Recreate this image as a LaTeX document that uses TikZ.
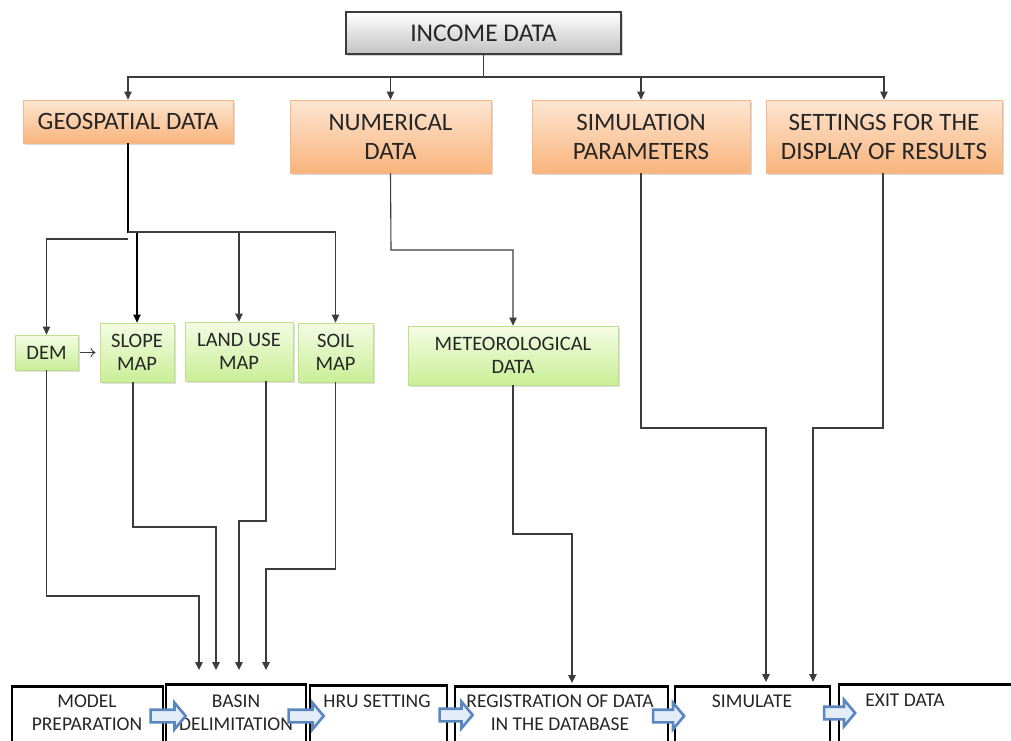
\documentclass[tikz,border=0pt]{standalone}
\usepackage{fontspec}
\setmainfont{Carlito}
\usetikzlibrary{arrows.meta,shapes.arrows,shadows}
\definecolor{txt}{HTML}{262626}
\definecolor{lineg}{HTML}{3C3C3C}
\definecolor{otop}{HTML}{FDE6D2}
\definecolor{obot}{HTML}{F9B47C}
\definecolor{oedge}{HTML}{F4B88A}
\definecolor{gtop}{HTML}{F4FCE4}
\definecolor{gbot}{HTML}{C9EE96}
\definecolor{gedge}{HTML}{BFE08A}
\definecolor{abl}{HTML}{5A87C0}
\definecolor{afill}{HTML}{E4ECF7}
\begin{document}
\begin{tikzpicture}[x=1pt,y=-1pt,
  every node/.style={text=txt},
  graybox/.style={draw=lineg, line width=1.2pt, top color=white, bottom color=black!24,
    drop shadow={shadow xshift=2pt, shadow yshift=-2pt, opacity=0.35},
    font=\fontsize{25.5}{30}\selectfont, inner sep=0pt},
  obox/.style={draw=oedge, line width=0.8pt, top color=otop, bottom color=obot,
    drop shadow={shadow xshift=2pt, shadow yshift=-2pt, opacity=0.3},
    font=\fontsize{25}{29}\selectfont, align=center, inner sep=0pt},
  gbox/.style={draw=gedge, line width=0.8pt, top color=gtop, bottom color=gbot,
    drop shadow={shadow xshift=1.5pt, shadow yshift=-1.5pt, opacity=0.25},
    font=\fontsize{20.5}{23.5}\selectfont, align=center, inner sep=0pt},
  bbox/.style={draw=black, line width=2.6pt, fill=white, anchor=north, minimum height=95},
  btext/.style={font=\fontsize{19.5}{22.5}\selectfont, align=center, anchor=north, inner sep=0pt},
  conn/.style={draw=lineg, line width=1.1pt, -{Triangle[length=8pt,width=7.5pt]}},
  barrow/.style={single arrow, draw=abl, line width=2.6pt, fill=afill, inner xsep=0pt, inner ysep=5pt,
    minimum width=24, single arrow head extend=7pt, single arrow tip angle=100}
]
\useasboundingbox (0,0) rectangle (1011,740);
\clip (0,0) rectangle (1011,740);

% top level
\node[graybox, minimum width=275, minimum height=42] (income) at (483.5,33) {INCOME DATA};
\node[obox, minimum width=210, minimum height=43] (geo) at (128,121.5) {GEOSPATIAL DATA};
\node[obox, minimum width=201, minimum height=73] (num) at (390.5,136.5) {NUMERICAL\\DATA};
\node[obox, minimum width=218, minimum height=73] (simp) at (641,136.5) {SIMULATION\\PARAMETERS};
\node[obox, minimum width=236, minimum height=73] (disp) at (884,136.5) {SETTINGS FOR THE\\DISPLAY OF RESULTS};

% green boxes
\node[gbox, minimum width=63, minimum height=35] (dem) at (46.5,352.5) {DEM};
\node[gbox, minimum width=74, minimum height=59] (slope) at (137,352.5) {SLOPE\\MAP};
\node[gbox, minimum width=108, minimum height=59] (land) at (239,351.5) {LAND USE\\MAP};
\node[gbox, minimum width=75, minimum height=59] (soil) at (335.5,352.5) {SOIL\\MAP};
\node[gbox, minimum width=210, minimum height=59] (met) at (513,355.5) {METEOROLOGICAL\\DATA};

% bottom boxes
\node[bbox, minimum width=151] (mp) at (87.5,685) {};
\node[bbox, minimum width=140] (basin) at (236,683) {};
\node[bbox, minimum width=137] (hru) at (378.5,684) {};
\node[bbox, minimum width=213] (reg) at (561.5,685) {};
\node[bbox, minimum width=155] (sim) at (752.5,685) {};
\node[bbox, minimum width=181] (exit) at (929.5,683) {};
\node[btext] (mpt) at (87,695) {MODEL\\PREPARATION};
\node[btext] (basint) at (236,695) {BASIN\\DELIMITATION};
\node[btext] (hrut) at (377,695) {HRU SETTING};
\node[btext] (regt) at (560,695) {REGISTRATION OF DATA\\IN THE DATABASE};
\node[btext] (simt) at (752,695) {SIMULATE};
\node[btext] (exitt) at (905,694) {EXIT DATA};

% block arrows
\node[barrow, minimum height=35] (a1) at (165.5,716) {};
\node[barrow, minimum height=35] (a2) at (303.5,716) {};
\node[barrow, minimum height=33] (a3) at (453.5,715) {};
\node[barrow, minimum height=31] (a4) at (666,716) {};
\node[barrow, minimum height=31] (a5) at (837,713) {};

% connectors from income
\coordinate (ij) at (483.5,77);
\draw[conn] (income.south) -- (ij) -| (geo.north);
\draw[conn] (ij) -| (num.north);
\draw[conn] (ij) -| (simp.north);
\draw[conn] (ij) -| (disp.north);

% geospatial branches
\coordinate (gj) at (128,232);
\coordinate (gd) at (128,239);
\draw[conn, draw=black] (geo.south) -- (gj) -| (slope.north);
\draw[conn] (gj) -| (land.north);
\draw[conn] (gj) -| (soil.north);
\draw[conn] (gd) -| (dem.north);
\draw[draw=lineg, line width=0.9pt, -{To[length=5pt,width=9pt]}, shorten <=2pt, shorten >=4pt] (dem.east) -- (slope.west |- dem.east);

% numerical to meteorological
\coordinate (nj) at (391,250);
\draw[conn] (num.south) -- (nj) -| (met.north);

% green boxes to basin
\coordinate (c1) at (199,596);
\coordinate (c2) at (216,527);
\coordinate (c3) at (239,521);
\coordinate (c4) at (266,569);
\draw[conn, shorten >=13pt] (dem.south) |- (c1) -- (c1 |- basin.north);
\draw[conn, shorten >=13pt] (slope.south -| 133,0) |- (c2) -- (c2 |- basin.north);
\draw[conn, shorten >=13pt] (land.south -| 266,0) |- (c3) -- (c3 |- basin.north);
\draw[conn, shorten >=13pt] (soil.south) |- (c4) -- (c4 |- basin.north);

% meteorological to registration
\coordinate (c5) at (572,534);
\draw[conn, shorten >=2pt] (met.south) |- (c5) -- (c5 |- reg.north);

% simulation parameters and display settings to simulate
\coordinate (c6) at (766,428);
\coordinate (c7) at (813,428);
\draw[conn, shorten >=3pt] (simp.south) |- (c6) -- (c6 |- sim.north);
\draw[conn, shorten >=3pt] (disp.south -| 883,0) |- (c7) -- (c7 |- sim.north);
\end{tikzpicture}
\end{document}
